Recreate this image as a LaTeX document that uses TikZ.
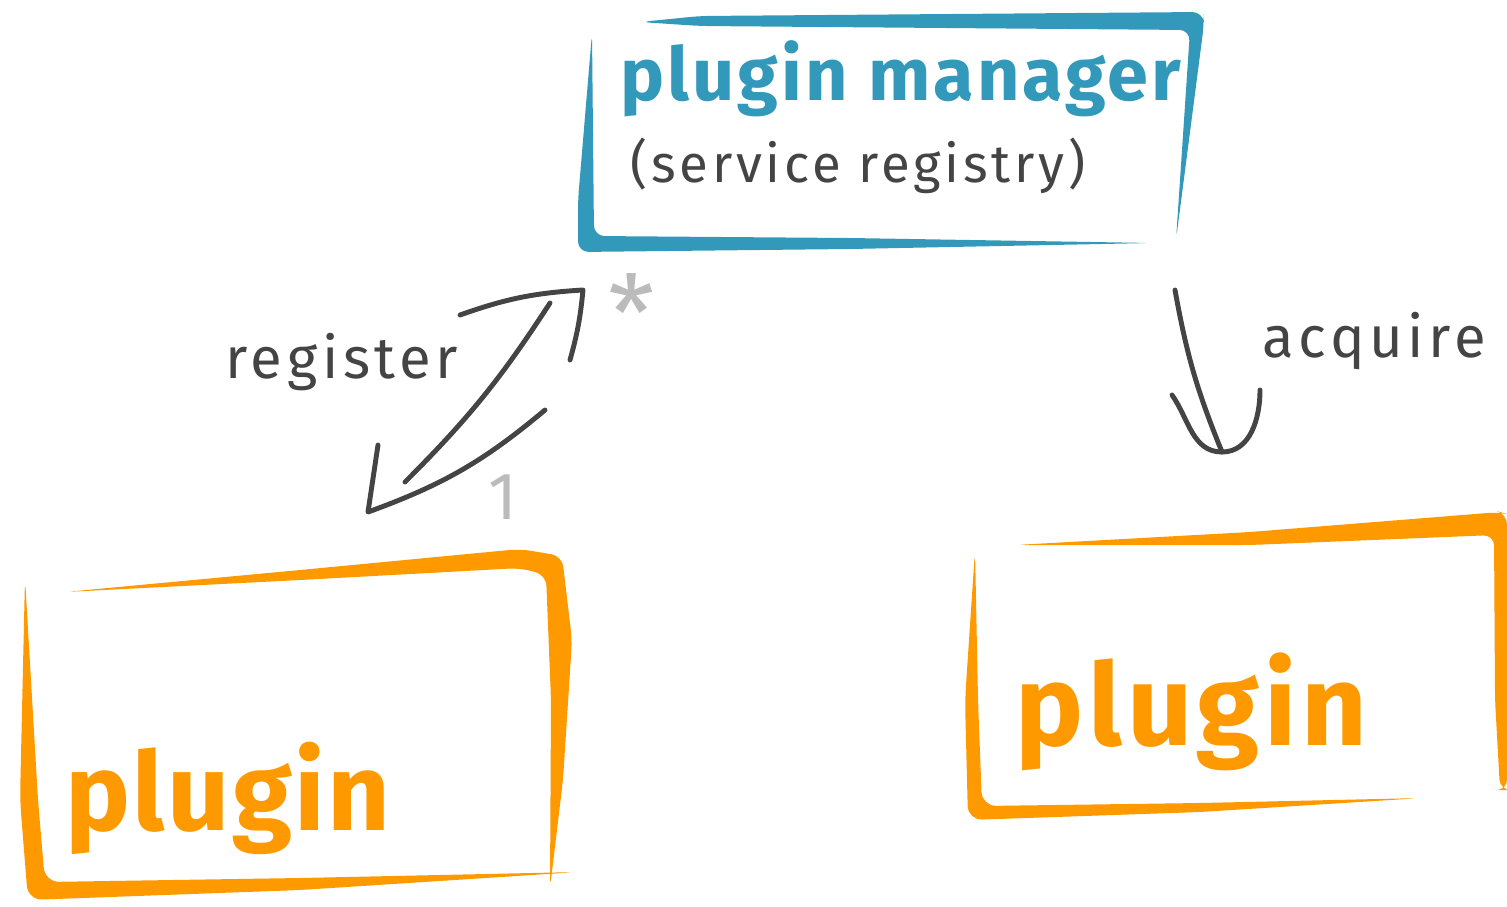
\documentclass[tikz,border=0pt]{standalone}
\usepackage{fontspec}
\setmainfont{Fira Sans}
\usetikzlibrary{calc}
\definecolor{penblue}{RGB}{51,153,187}
\definecolor{penorange}{RGB}{255,153,0}
\definecolor{pengray}{RGB}{68,68,68}
\definecolor{penlight}{RGB}{187,187,187}

\begin{document}
\begin{tikzpicture}[x=0.01cm, y=-0.01cm, line cap=round, line join=round,
  every node/.style={inner sep=0pt},
  title/.style={text=penblue, font=\bfseries\fontsize{21}{25}\selectfont\addfontfeature{LetterSpace=4}},
  note/.style={text=pengray, font=\fontsize{15}{18}\selectfont\addfontfeature{LetterSpace=7}},
  label/.style={text=pengray, font=\fontsize{16.5}{20}\selectfont\addfontfeature{LetterSpace=8}},
  plug/.style={text=penorange, font=\bfseries\fontsize{31}{36}\selectfont\addfontfeature{LetterSpace=2}},
  mult/.style={text=penlight, font=\fontsize{19}{22}\selectfont}]
\useasboundingbox (0,0) rectangle (1507,906);

% plugin manager frame
\fill[penblue, rounded corners=3pt] (640,22) -- (700,16) -- (1203,12) -- (1204,24) -- (1176,240) -- (1190,30) -- (700,26) -- cycle;
\fill[penblue, rounded corners=3pt] (592,33) -- (578,200) -- (578,252) -- (850,249) -- (1152,243) -- (850,238) -- (594,236) -- cycle;

% left plugin frame
\fill[penorange, rounded corners=3pt] (65,592) -- (300,570) -- (520,549) -- (562,556) -- (572,640) -- (563,780) -- (550,888) -- (551,700) -- (546,575) -- (520,568) -- (300,580) -- cycle;
\fill[penorange, rounded corners=4pt] (25,578) -- (20,800) -- (28,900) -- (300,890) -- (578,872) -- (300,878) -- (45,882) -- (38,800) -- cycle;

% right plugin frame
\fill[penorange, rounded corners=3pt] (1015,545) -- (1250,532) -- (1500,512) -- (1507,514) -- (1507,790) -- (1500,790) -- (1495,700) -- (1494,535) -- (1250,545) -- cycle;
\fill[penorange, rounded corners=4pt] (975,550) -- (965,700) -- (968,820) -- (1200,812) -- (1422,798) -- (1200,803) -- (982,806) -- (978,700) -- cycle;

\node(mgr)[title, anchor=base west] at (620,100) {plugin manager};
\node(registry)[note, anchor=base west] at (630,182) {(service registry)};
\node(register)[label, anchor=base west] at (225,378) {register};
\node(acquire)[label, anchor=base west] at (1262,357) {acquire};
\node(pluginA)[plug, anchor=base west] at (65,830) {plugin};
\node(pluginB)[plug, anchor=base west, font=\bfseries\fontsize{32.5}{38}\selectfont\addfontfeature{LetterSpace=4}] at (1015,745) {plugin};
\node(many)[mult, font=\fontsize{30}{34}\selectfont] at (632,313) {*};
\node(one)[mult] at (503,497) {1};

\coordinate (regtop) at (583,290);
\coordinate (regbot) at (368,512);
\coordinate (acqtop) at (1175,290);
\coordinate (acqtip) at (1222,452);

\begin{scope}[pengray, line width=1.4pt]
\draw ($(regbot)+(37,-30)$) to[bend right=6] ($(regtop)+(-33,13)$);
\draw ($(regtop)+(-123,25)$) to[bend left=8] (regtop) to[bend left=5] ++(-13,70);
\draw ($(regbot)+(10,-67)$) -- (regbot) to[bend right=10] ++(177,-102);
\draw (acqtop) to[bend right=6] (acqtip);
\draw ($(acqtip)+(-50,-57)$) to[out=-55, in=180] (acqtip) to[out=0, in=-90] ++(38,-62);
\end{scope}

\end{tikzpicture}
\end{document}
